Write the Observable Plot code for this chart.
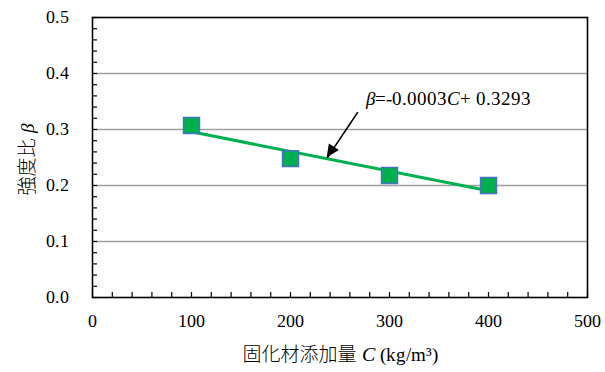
<!DOCTYPE html>
<html lang="en"><head><meta charset="utf-8">
<script src="https://cdn.jsdelivr.net/npm/d3@7"></script>
<script src="https://cdn.jsdelivr.net/npm/@observablehq/plot@0.6"></script>
<style>
@font-face { font-family: "ChartSerif"; src: local("Liberation Serif"), local("LiberationSerif"); font-style: normal; }
@font-face { font-family: "ChartSerif"; src: local("Liberation Serif Italic"), local("LiberationSerif-Italic"); font-style: italic; }
body{margin:0;background:#fff}
#wrap{position:relative;width:605px;height:372px}
.lbl{position:absolute;font-size:19px;white-space:nowrap;color:#000;font-family:"ChartSerif","Liberation Serif",serif}
.lbl .cjk{font-family:"Noto Sans CJK JP",sans-serif;font-weight:300}
.lbl i{font-style:italic}
#ylab{left:25px;top:160px;transform:translate(-50%,-50%) rotate(-90deg);transform-origin:center}
#xlab{left:340px;top:352px;transform:translate(-50%,-50%)}
</style>
</head><body><div id="wrap"><div id="chart"></div>
<div class="lbl" id="ylab"><span class="cjk" lang="ja">強度比</span> <i>β</i></div>
<div class="lbl" id="xlab"><span class="cjk" lang="ja">固化材添加量</span> <i style="font-size:20px">C</i> (kg/m³)</div>
</div>
<script>
const cementC = [100, 200, 300, 400];
const ratioBeta = [0.307, 0.248, 0.218, 0.200];
const xTicks = [0, 100, 200, 300, 400, 500];
const yTicks = [0, 0.1, 0.2, 0.3, 0.4, 0.5];
const xMinor = d3.range(0, 501, 20);
const yMinor = d3.range(0, 0.501, 0.02);
const gridLines = [0.1, 0.2, 0.3, 0.4];
const eqText = ["β", "=-0.0003", "C", "+ 0.3293"];
const eqPos = {x: 276, y: 0.354};
const arrowFrom = {x: 268, y: 0.331};
const arrowTo = {x: 237, y: 0.249};

const data = cementC.map((c, i) => ({c, b: ratioBeta[i]}));
const SERIF = "ChartSerif, 'Liberation Serif', serif";

const plot = Plot.plot({
  width: 605, height: 372,
  marginLeft: 92, marginRight: 18, marginTop: 17, marginBottom: 75,
  style: {fontFamily: SERIF, fontSize: "18px", color: "#000", background: "#fff"},
  x: {domain: [0, 500]},
  y: {domain: [0, 0.5]},
  marks: [
    Plot.gridY(gridLines, {stroke: "#a0a0a0", strokeOpacity: 1, strokeWidth: 1.5}),
    Plot.axisX(xMinor, {tickSize: -5, text: null, label: null, strokeWidth: 1.2}),
    Plot.axisY(yMinor, {tickSize: -5, text: null, label: null, strokeWidth: 1.2}),
    Plot.axisX(xTicks, {tickSize: 0, tickPadding: 17, label: null, tickFormat: d3.format("d"), fontSize: 18, fontFamily: SERIF}),
    Plot.axisY(yTicks, {tickSize: 0, tickPadding: 24, label: null, tickFormat: d3.format(".1f"), fontSize: 18, fontFamily: SERIF}),
    Plot.frame({stroke: "#000", strokeWidth: 1.6}),
    Plot.linearRegressionY(data, {x: "c", y: "b", stroke: "#00b050", strokeWidth: 3, ci: 0}),
    Plot.dot(data, {x: "c", y: "b", symbol: "square", r: 9, fill: "#00b050", stroke: "#4472c4", strokeWidth: 1.5}),
    Plot.link([0], {x1: () => arrowFrom.x, y1: () => arrowFrom.y, x2: () => arrowTo.x, y2: () => arrowTo.y, stroke: "#000", strokeWidth: 1.6}),
    Plot.text([eqText.join("")], {x: () => eqPos.x, y: () => eqPos.y, text: d => d, textAnchor: "start", fontSize: 19, fontFamily: SERIF, className: "eq"})
  ]
});

// rich text for the equation
const eq = plot.querySelector(".eq text");
if (eq) {
  eq.textContent = "";
  eqText.forEach((t, i) => {
    const ts = document.createElementNS("http://www.w3.org/2000/svg", "tspan");
    ts.textContent = t;
    if (i === 0 || i === 2) ts.setAttribute("font-style", "italic");
    eq.appendChild(ts);
  });
}

const svg = d3.select(plot);
// filled arrow head using the plot's scales
const sx = plot.scale("x"), sy = plot.scale("y");
const ax = sx.apply(arrowTo.x), ay = sy.apply(arrowTo.y);
const bx = sx.apply(arrowFrom.x), by = sy.apply(arrowFrom.y);
const ang = Math.atan2(ay - by, ax - bx);
const L = 13, W = 6;
const px = ax - L * Math.cos(ang), py = ay - L * Math.sin(ang);
svg.append("polygon")
  .attr("points", [[ax, ay], [px + W * Math.sin(ang), py - W * Math.cos(ang)], [px - W * Math.sin(ang), py + W * Math.cos(ang)]].map(p => p.join(",")).join(" "))
  .attr("fill", "#000");

plot.querySelectorAll("text, tspan").forEach(el => el.style.setProperty("font-family", SERIF, "important"));

document.getElementById("chart").appendChild(plot);
</script></body></html>
